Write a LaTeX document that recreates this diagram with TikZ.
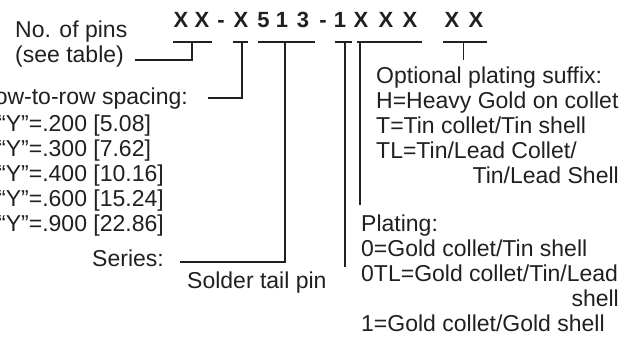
\documentclass[tikz,border=0pt]{standalone}
\usepackage{fontspec}
\setmainfont{Liberation Sans}
\definecolor{ink}{HTML}{231F20}
\begin{document}
\begin{tikzpicture}[x=1pt,y=-1pt,
  lbl/.style={inner sep=0pt, text=ink, font=\fontsize{23}{25}\selectfont},
  codechar/.style={inner sep=0pt, text=ink, font=\fontsize{22}{24}\selectfont\bfseries, anchor=base},
  lead/.style={draw=ink, line width=1.8pt},
  thinlead/.style={draw=ink, line width=1pt}]
\useasboundingbox (0,0) rectangle (643,337);
% part number characters
\foreach \c/\x [count=\i] in {X/181,X/202,-/221,X/241,5/263.5,1/282,3/303,-/323,1/340,X/361,X/386,X/410,X/452,X/476}
  \node[codechar] (c\i) at (\x,28) {\c};
% labels, left
\node[lbl, anchor=base west] (pins) at (15,38) {No. of pins};
\node[lbl, anchor=base west] (seetable) at (15,63) {(see table)};
\node[lbl, anchor=base east] (row) at (188,105) {Row-to-row spacing:};
\node[lbl, anchor=base west] (y2) at (-2,131.5) {“Y”=.200 [5.08]};
\node[lbl, anchor=base west] (y3) at (-2,156.5) {“Y”=.300 [7.62]};
\node[lbl, anchor=base west] (y4) at (-2,181.5) {“Y”=.400 [10.16]};
\node[lbl, anchor=base west] (y6) at (-2,206.5) {“Y”=.600 [15.24]};
\node[lbl, anchor=base west] (y9) at (-2,231.5) {“Y”=.900 [22.86]};
\node[lbl, anchor=base east] (series) at (164,266) {Series:};
\node[lbl, anchor=base west] (solder) at (187,288) {Solder tail pin};
% labels, right
\node[lbl, anchor=base west] (s1) at (376,83.5) {Optional plating suffix:};
\node[lbl, anchor=base west] (s2) at (376,108.5) {H=Heavy Gold on collet};
\node[lbl, anchor=base west] (s3) at (376,133.5) {T=Tin collet/Tin shell};
\node[lbl, anchor=base west] (s4) at (376,158.5) {TL=Tin/Lead Collet/};
\node[lbl, anchor=base east] (s5) at (619,183.5) {Tin/Lead Shell};
\node[lbl, anchor=base west] (p1) at (361,231.5) {Plating:};
\node[lbl, anchor=base west] (p2) at (361,256.5) {0=Gold collet/Tin shell};
\node[lbl, anchor=base west] (p3) at (361,281.5) {0TL=Gold collet/Tin/Lead};
\node[lbl, anchor=base east] (p4) at (619,306.5) {shell};
\node[lbl, anchor=base west] (p5) at (361,331.5) {1=Gold collet/Gold shell};
% connector points
\coordinate (pinsL) at (173,42);   \coordinate (pinsR) at (212,42);
\coordinate (pinsT) at (192,42);   \coordinate (pinsB) at (192,60);   \coordinate (pinsE) at (135,60);
\coordinate (rowL) at (233,42);    \coordinate (rowR) at (248,42);
\coordinate (rowT) at (242,42);    \coordinate (rowB) at (242,98);    \coordinate (rowE) at (208,98);
\coordinate (serL) at (258,42);    \coordinate (serR) at (315,42);
\coordinate (serT) at (285,42);    \coordinate (serB) at (285,262);   \coordinate (serE) at (180,262);
\coordinate (solL) at (335,42);    \coordinate (solR) at (352,42);
\coordinate (solT) at (345,42);    \coordinate (solB) at (345,267);
\coordinate (plaL) at (357,42);    \coordinate (plaR) at (422,42);
\coordinate (plaT) at (360,42);    \coordinate (plaB) at (360,205);
\coordinate (sufL) at (443,42);    \coordinate (sufR) at (487,42);
\coordinate (sufT) at (463,42);    \coordinate (sufB) at (463,60);
% connectors
\draw[lead] (pinsL) -- (pinsR);
\draw[lead] (pinsT) -- (pinsB) -- (pinsE);
\draw[lead] (rowL) -- (rowR);
\draw[lead] (rowT) -- (rowB) -- (rowE);
\draw[lead] (serL) -- (serR);
\draw[lead] (serT) -- (serB) -- (serE);
\draw[lead] (solL) -- (solR);
\draw[lead] (solT) -- (solB);
\draw[lead] (plaL) -- (plaR);
\draw[lead] (plaT) -- (plaB);
\draw[lead] (sufL) -- (sufR);
\draw[thinlead] (sufT) -- (sufB);
\end{tikzpicture}
\end{document}
